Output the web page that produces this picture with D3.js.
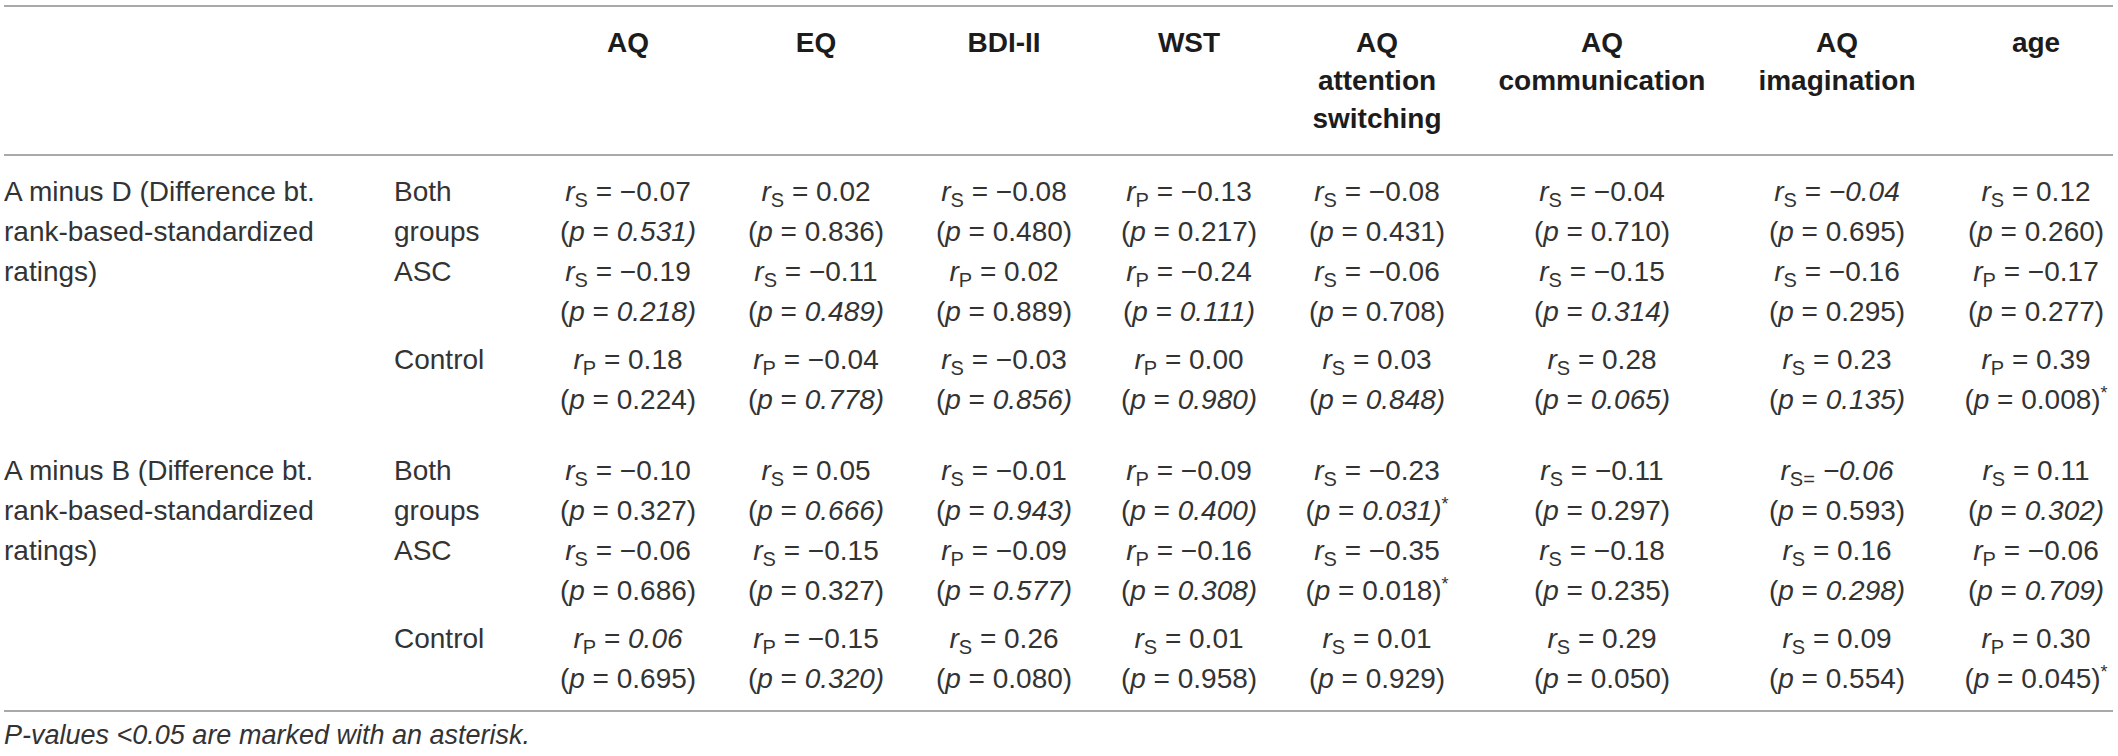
<!DOCTYPE html>
<html>
<head>
<meta charset="utf-8">
<script src="https://cdn.jsdelivr.net/npm/d3@7"></script>
<style>
	body { margin: 0; background: #fff; }
	svg text { font-family: "Liberation Sans", Arial, sans-serif; white-space: pre; }
</style>
</head>
<body>
<div id="chart"></div>
<script>
// Correlation table, two blocks (A minus D, A minus B) x three groups

// Column headings, one entry per heading line
let columns = [
	["AQ"], ["EQ"], ["BDI-II"], ["WST"],
	["AQ", "attention", "switching"], ["AQ", "communication"], ["AQ", "imagination"], ["age"]
];

let blocks = [
	["A minus D (Difference bt.", "rank-based-standardized", "ratings)"],
	["A minus B (Difference bt.", "rank-based-standardized", "ratings)"]
];

let groups = [["Both", "groups"], ["ASC"], ["Control"]];

// Rows: D-Both, D-ASC, D-Control, B-Both, B-ASC, B-Control
// S = Spearman, P = Pearson
let rTypes = [
	["S", "S", "S", "P", "S", "S", "S", "S"],
	["S", "S", "P", "P", "S", "S", "S", "P"],
	["P", "P", "S", "P", "S", "S", "S", "P"],
	["S", "S", "S", "P", "S", "S", "S=", "S"],
	["S", "S", "P", "P", "S", "S", "S", "P"],
	["P", "P", "S", "S", "S", "S", "S", "P"]
];

let rValues = [
	[-0.07, 0.02, -0.08, -0.13, -0.08, -0.04, -0.04, 0.12],
	[-0.19, -0.11, 0.02, -0.24, -0.06, -0.15, -0.16, -0.17],
	[0.18, -0.04, -0.03, 0.00, 0.03, 0.28, 0.23, 0.39],
	[-0.10, 0.05, -0.01, -0.09, -0.23, -0.11, -0.06, 0.11],
	[-0.06, -0.15, -0.09, -0.16, -0.35, -0.18, 0.16, -0.06],
	[0.06, -0.15, 0.26, 0.01, 0.01, 0.29, 0.09, 0.30]
];

// 1 where the r value is set in italics
let rItalic = [
	[0, 0, 0, 0, 0, 0, 1, 0],
	[0, 0, 0, 0, 0, 0, 0, 0],
	[0, 0, 0, 0, 0, 0, 0, 0],
	[0, 0, 0, 0, 0, 0, 1, 0],
	[0, 0, 0, 0, 0, 0, 0, 0],
	[1, 0, 0, 0, 0, 0, 0, 0]
];

let pValues = [
	[0.531, 0.836, 0.480, 0.217, 0.431, 0.710, 0.695, 0.260],
	[0.218, 0.489, 0.889, 0.111, 0.708, 0.314, 0.295, 0.277],
	[0.224, 0.778, 0.856, 0.980, 0.848, 0.065, 0.135, 0.008],
	[0.327, 0.666, 0.943, 0.400, 0.031, 0.297, 0.593, 0.302],
	[0.686, 0.327, 0.577, 0.308, 0.018, 0.235, 0.298, 0.709],
	[0.695, 0.320, 0.080, 0.958, 0.929, 0.050, 0.554, 0.045]
];

// 1 where the p value is set in italics
let pItalic = [
	[1, 0, 0, 0, 0, 0, 0, 0],
	[1, 1, 0, 1, 0, 1, 0, 0],
	[0, 1, 1, 1, 1, 1, 1, 0],
	[0, 1, 1, 1, 1, 0, 0, 1],
	[0, 0, 1, 1, 0, 0, 1, 1],
	[0, 1, 0, 0, 0, 0, 0, 0]
];

// 1 where the p value gets an asterisk
let starred = [
	[0, 0, 0, 0, 0, 0, 0, 0],
	[0, 0, 0, 0, 0, 0, 0, 0],
	[0, 0, 0, 0, 0, 0, 0, 1],
	[0, 0, 0, 0, 1, 0, 0, 0],
	[0, 0, 0, 0, 1, 0, 0, 0],
	[0, 0, 0, 0, 0, 0, 0, 1]
];

let footnote = "P-values <0.05 are marked with an asterisk.";

// -------------------------------

let width = 2118, height = 756;
let fmtR = d3.format(".2f"), fmtP = d3.format(".3f");

// Column centres and line positions
let x = d3.scaleOrdinal()
	.domain(d3.range(columns.length))
	.range([628, 816, 1004, 1189, 1377, 1602, 1837, 2036]);

let lineStep = d3.scaleLinear().domain([0, 1]).range([0, 40]);
let blockTop = [201, 480];
let groupLine = [0, 2, 4];
let groupGap = [0, 0, 8];
let labelX = 4, groupX = 394;

let rowY = (row) => {
	let b = Math.floor(row / 3), g = row % 3;
	return blockTop[b] + lineStep(groupLine[g]) + groupGap[g];
};

let svg = d3.select("#chart")
	.append("svg")
	.attr("width", width)
	.attr("height", height);

// Rules
svg.selectAll(".rule")
	.data([6, 155, 711])
	.enter().append("line")
	.attr("class", "rule")
	.attr("x1", 4)
	.attr("x2", 2113)
	.attr("y1", d => d)
	.attr("y2", d => d)
	.style("stroke", "#8c8c8c")
	.style("stroke-width", 1.6);

// Column headings
let head = svg.selectAll(".head")
	.data(columns)
	.enter().append("text")
	.attr("class", "head")
	.attr("text-anchor", "middle")
	.style("font-weight", "bold")
	.style("font-size", "28px")
	.style("fill", "#1c1c1c");

head.selectAll("tspan")
	.data((d, i) => d.map(t => ({ t: t, i: i })))
	.enter().append("tspan")
	.attr("x", d => x(d.i))
	.attr("y", (d, j) => 52 + j * 38)
	.text(d => d.t);

// Block labels and group labels
let bodyText = (sel) => sel
	.style("font-size", "28px")
	.style("fill", "#333");

blocks.forEach((lines, b) => {
	bodyText(svg.selectAll(".block" + b)
		.data(lines)
		.enter().append("text")
		.attr("class", "block" + b)
		.attr("x", labelX)
		.attr("y", (d, j) => blockTop[b] + lineStep(j))
		.text(d => d));

	groups.forEach((g, gi) => {
		bodyText(svg.selectAll(".grp" + b + gi)
			.data(g)
			.enter().append("text")
			.attr("class", "grp" + b + gi)
			.attr("x", groupX)
			.attr("y", (d, j) => rowY(b * 3 + gi) + lineStep(j))
			.text(d => d));
	});
});

// Cells: r line then p line
let cells = [];
rValues.forEach((row, ri) => row.forEach((v, ci) => cells.push({ row: ri, col: ci })));

let cell = svg.selectAll(".cell")
	.data(cells)
	.enter().append("g")
	.attr("class", "cell");

let rLine = bodyText(cell.append("text"))
	.attr("text-anchor", "middle")
	.attr("x", d => x(d.col))
	.attr("y", d => rowY(d.row));

rLine.append("tspan").style("font-style", "italic").text("r");
rLine.append("tspan")
	.attr("dy", 6)
	.style("font-size", "20px")
	.text(d => rTypes[d.row][d.col]);
rLine.append("tspan")
	.attr("dy", -6)
	.text(d => rTypes[d.row][d.col].endsWith("=") ? " " : " = ");
rLine.append("tspan")
	.style("font-style", d => rItalic[d.row][d.col] ? "italic" : "normal")
	.text(d => fmtR(rValues[d.row][d.col]));

let pLine = bodyText(cell.append("text"))
	.attr("text-anchor", "middle")
	.attr("x", d => x(d.col))
	.attr("y", d => rowY(d.row) + lineStep(1));

pLine.append("tspan").text("(");
pLine.append("tspan").style("font-style", "italic").text("p");
pLine.append("tspan").text(" = ");
pLine.append("tspan")
	.style("font-style", d => pItalic[d.row][d.col] ? "italic" : "normal")
	.text(d => fmtP(pValues[d.row][d.col]) + ")");
pLine.filter(d => starred[d.row][d.col])
	.append("tspan")
	.attr("dy", -10)
	.style("font-size", "18px")
	.text("*");

// Footnote
svg.append("text")
	.attr("x", labelX)
	.attr("y", 744)
	.style("font-size", "27px")
	.style("font-style", "italic")
	.style("fill", "#333")
	.text(footnote);
</script>
</body>
</html>
